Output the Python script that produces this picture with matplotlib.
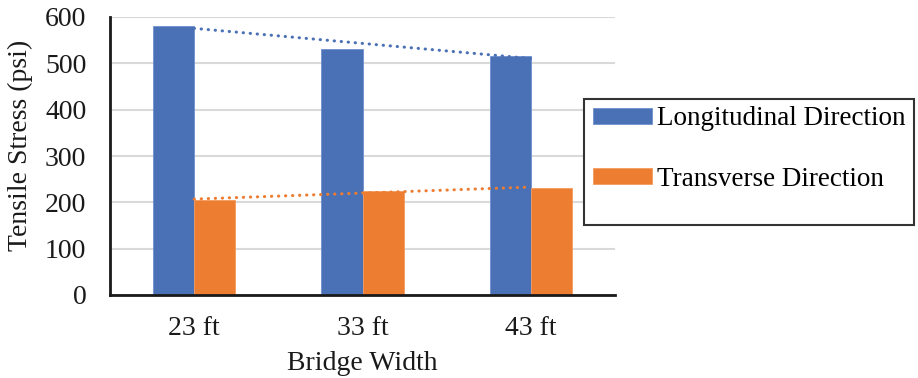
import numpy as np
import matplotlib
matplotlib.use("Agg")
import matplotlib.pyplot as plt
from matplotlib.patches import Rectangle

plt.rcParams["font.family"] = ["Liberation Serif", "DejaVu Serif"]

widths        = ["23 ft", "33 ft", "43 ft"]
longitudinal  = [581, 532, 516]
transverse    = [205, 224, 231]
series_labels = ["Longitudinal Direction", "Transverse Direction"]
y_ticks       = [0, 100, 200, 300, 400, 500, 600]

BLUE   = "#4A70B6"
ORANGE = "#ED7D31"
FS     = 20

fig = plt.figure(figsize=(9.18, 3.78), dpi=100)
ax = fig.add_axes([110 / 918, 83 / 378, 505 / 918, 278 / 378])

x = np.arange(len(widths))
bw = 0.244
ax.bar(x - bw / 2, longitudinal, bw, color=BLUE, edgecolor="#6f8fce", lw=0.6,
       label=series_labels[0], zorder=2)
ax.bar(x + bw / 2, transverse, bw, color=ORANGE, edgecolor="#f29a60", lw=0.6,
       label=series_labels[1], zorder=2)

# linear trendlines, dotted
for vals, col in [(longitudinal, BLUE), (transverse, ORANGE)]:
    k, b = np.polyfit(x, vals, 1)
    ax.plot(x, k * x + b, color=col, lw=2.2, linestyle=(0, (0.1, 2.2)),
            dash_capstyle="round", zorder=3)

ax.set_xlim(-0.5, 2.5)
ax.set_ylim(0, 600)
ax.set_yticks(y_ticks)
ax.set_xticks(x)
ax.set_xticklabels(widths)
ax.tick_params(axis="both", length=0, labelsize=FS, colors="#1a1a1a")
ax.tick_params(axis="y", pad=17)
ax.tick_params(axis="x", pad=15)
ax.grid(True, axis="y", color="#d9d9d9", lw=1.5, zorder=0)
ax.set_axisbelow(True)
for s in ["top", "right"]:
    ax.spines[s].set_visible(False)
for s in ["left", "bottom"]:
    ax.spines[s].set_color("#1a1a1a")
    ax.spines[s].set_linewidth(2)
    ax.spines[s].set_zorder(4)

ax.set_ylabel("Tensile Stress (psi)", fontsize=FS, color="#1a1a1a", va="center")
ax.yaxis.set_label_coords((20 - 110) / 505, 0.54)
ax.set_xlabel("Bridge Width", fontsize=FS, color="#1a1a1a", va="center")
ax.xaxis.set_label_coords(0.5, (295 - 363) / 278)

# legend box
fig.patches.append(Rectangle((584 / 918, 1 - 225 / 378), 330 / 918, 126 / 378,
                             transform=fig.transFigure, facecolor="white",
                             edgecolor="#333333", lw=1.5, zorder=5))
fig.legend(loc="upper left", bbox_to_anchor=(584 / 918, 1 - 97 / 378),
           frameon=False, fontsize=19.5, handlelength=2.15, handleheight=0.5,
           handletextpad=0.2, labelspacing=1.3, borderpad=0.0,
           borderaxespad=0.35).set_zorder(6)

fig.savefig("out.png", dpi=100)
